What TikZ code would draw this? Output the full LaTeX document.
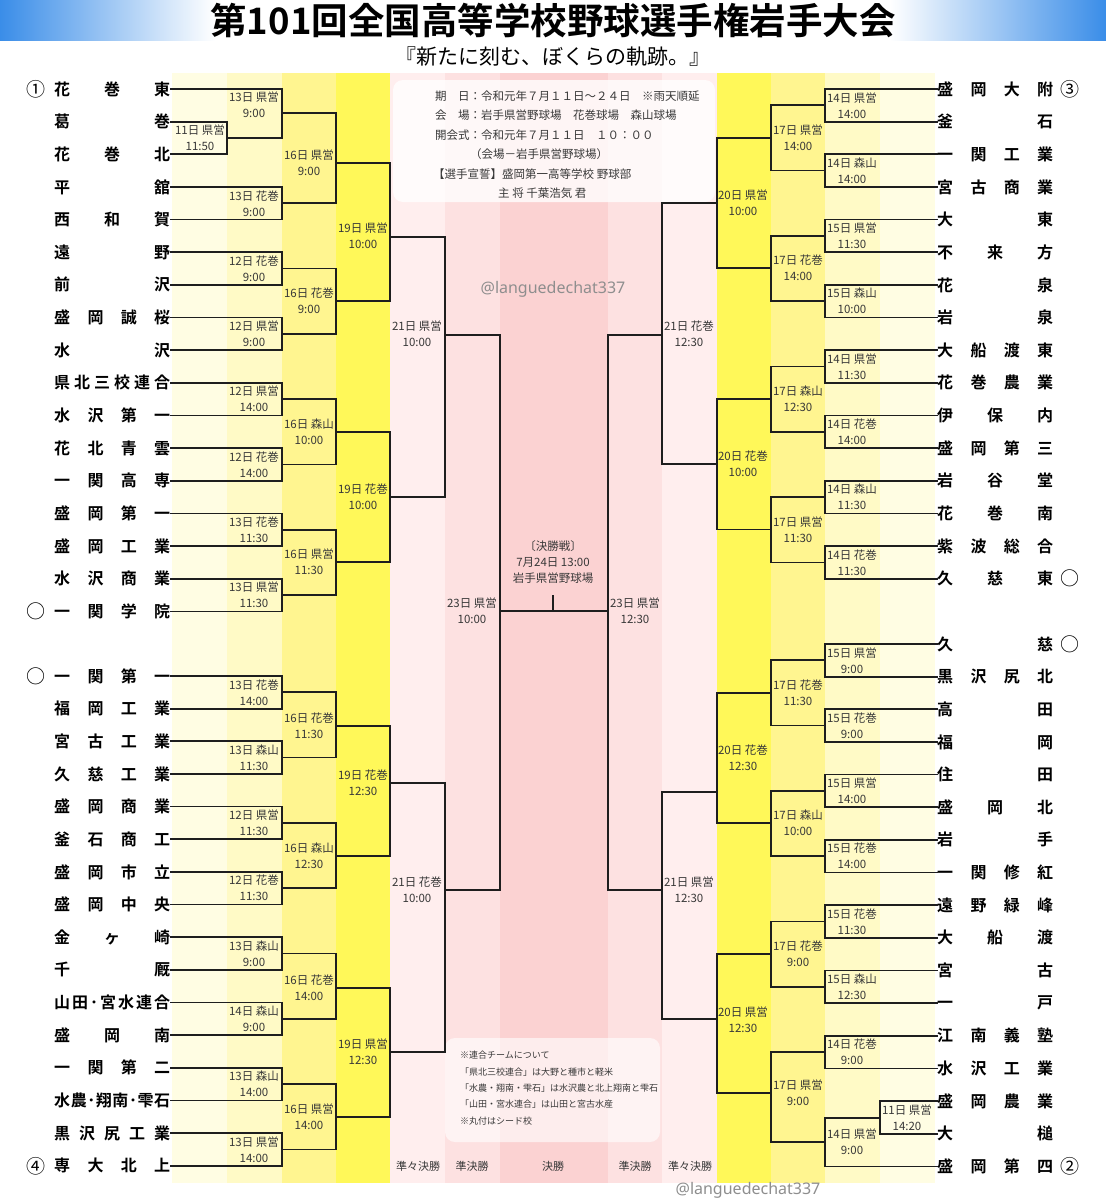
\documentclass[tikz,border=0pt]{standalone}
\usepackage{fontspec}
\setmainfont{Noto Sans CJK JP}[BoldFont=* Bold]
\newfontfamily\latinf{Noto Sans}
\definecolor{tblue}{HTML}{3A8DE8}
\definecolor{cA}{HTML}{FFFDE3}
\definecolor{cB}{HTML}{FFFAC6}
\definecolor{cC}{HTML}{FFF590}
\definecolor{cD}{HTML}{FFF859}
\definecolor{pA}{HTML}{FFEEEE}
\definecolor{pB}{HTML}{FDE1E1}
\definecolor{pC}{HTML}{FBD2D2}
\definecolor{lineC}{HTML}{1E1E1E}
\definecolor{labC}{HTML}{383838}
\definecolor{wmC}{HTML}{8E8E8E}
\newcounter{lbcnt}
\newcommand\Brk[5]{\draw[br] (#1,#2) -- (#1,#3) (#1,#4) -- (#5,#4);}
\newcommand\Lbl[4]{\stepcounter{lbcnt}\node[lbl] (lab\arabic{lbcnt}) at (#1,#2) {#3\\#4};}
\begin{document}
\begin{tikzpicture}[x=1pt,y=-1pt,
  br/.style={line width=1.7pt, draw=lineC, line cap=rect},
  teamL/.style={anchor=west, inner sep=0pt, font=\fontsize{16}{16}\selectfont\bfseries},
  lbl/.style={align=center, inner sep=0pt, text=labC, font=\fontsize{11.5}{16}\selectfont},
  info/.style={anchor=west, inner sep=0pt, text=labC, font=\fontsize{11.5}{14}\selectfont},
  note/.style={anchor=west, inner sep=0pt, text=labC, font=\fontsize{9}{11}\selectfont},
  seed/.style={inner sep=0pt, font=\fontsize{19}{19}\selectfont},
  rnd/.style={inner sep=0pt, text=labC, font=\fontsize{11}{11}\selectfont},
  wmark/.style={inner sep=0pt, text=wmC, font=\latinf\fontsize{16}{16}\selectfont}]
\useasboundingbox (0,0) rectangle (1106,1200);
\fill[white] (0,0) rectangle (1106,1200);
% title band
\shade[left color=tblue, middle color=tblue!45, right color=white] (0,0) rectangle (215,40);
\shade[left color=white, middle color=tblue!45, right color=tblue] (890,0) rectangle (1106,40);
\node[inner sep=0pt, font=\fontsize{36.5}{36.5}\selectfont\bfseries] (title) at (553,21) {第101回全国高等学校野球選手権岩手大会};
\node[inner sep=0pt, font=\fontsize{21}{21}\selectfont] (subtitle) at (553,57) {『新たに刻む、ぼくらの軌跡。』};
% column backgrounds
\fill[cA] (172,73) rectangle (227,1183);
\fill[cB] (227,73) rectangle (282,1183);
\fill[cC] (282,73) rectangle (336,1183);
\fill[cD] (336,73) rectangle (390,1183);
\fill[pA] (390,73) rectangle (445,1183);
\fill[pB] (445,73) rectangle (500,1183);
\fill[pC] (500,73) rectangle (608,1183);
\fill[pB] (608,73) rectangle (662,1183);
\fill[pA] (662,73) rectangle (717,1183);
\fill[cD] (717,73) rectangle (771,1183);
\fill[cC] (771,73) rectangle (825,1183);
\fill[cB] (825,73) rectangle (880,1183);
\fill[cA] (880,73) rectangle (935,1183);
% boxes
\fill[white, opacity=0.78, rounded corners=10pt] (393,80) rectangle (715,202);
\fill[white, opacity=0.6, rounded corners=10pt] (445,1038) rectangle (660,1142);
% column coordinates
\coordinate (cA) at (227,0);
\coordinate (cB) at (282,0);
\coordinate (cK) at (825,0);
\coordinate (cL) at (880,0);
% teams left
\foreach \n [count=\i from 0] in {花\hfill 巻\hfill 東, 葛\hfill 巻, 花\hfill 巻\hfill 北, 平\hfill 舘, 西\hfill 和\hfill 賀, 遠\hfill 野, 前\hfill 沢, 盛\hfill 岡\hfill 誠\hfill 桜, 水\hfill 沢, 県\hfill 北\hfill 三\hfill 校\hfill 連\hfill 合, 水\hfill 沢\hfill 第\hfill 一, 花\hfill 北\hfill 青\hfill 雲, 一\hfill 関\hfill 高\hfill 専, 盛\hfill 岡\hfill 第\hfill 一, 盛\hfill 岡\hfill 工\hfill 業, 水\hfill 沢\hfill 商\hfill 業, 一\hfill 関\hfill 学\hfill 院}
  \node[teamL] (LA\i) at (54,{89+32.65*\i}) {\makebox[116pt][s]{\n}};
\foreach \n [count=\i from 0] in {一\hfill 関\hfill 第\hfill 一, 福\hfill 岡\hfill 工\hfill 業, 宮\hfill 古\hfill 工\hfill 業, 久\hfill 慈\hfill 工\hfill 業, 盛\hfill 岡\hfill 商\hfill 業, 釜\hfill 石\hfill 商\hfill 工, 盛\hfill 岡\hfill 市\hfill 立, 盛\hfill 岡\hfill 中\hfill 央, 金\hfill ヶ\hfill 崎, 千\hfill 厩, 山\hfill 田\hfill ･\hfill 宮\hfill 水\hfill 連\hfill 合, 盛\hfill 岡\hfill 南, 一\hfill 関\hfill 第\hfill 二, 水\hfill 農\hfill ･\hfill 翔\hfill 南\hfill ･\hfill 雫\hfill 石, 黒\hfill 沢\hfill 尻\hfill 工\hfill 業, 専\hfill 大\hfill 北\hfill 上}
  \node[teamL] (LB\i) at (54,{676+32.65*\i}) {\makebox[116pt][s]{\n}};
% teams right
\foreach \n [count=\i from 0] in {盛\hfill 岡\hfill 大\hfill 附, 釜\hfill 石, 一\hfill 関\hfill 工\hfill 業, 宮\hfill 古\hfill 商\hfill 業, 大\hfill 東, 不\hfill 来\hfill 方, 花\hfill 泉, 岩\hfill 泉, 大\hfill 船\hfill 渡\hfill 東, 花\hfill 巻\hfill 農\hfill 業, 伊\hfill 保\hfill 内, 盛\hfill 岡\hfill 第\hfill 三, 岩\hfill 谷\hfill 堂, 花\hfill 巻\hfill 南, 紫\hfill 波\hfill 総\hfill 合, 久\hfill 慈\hfill 東}
  \node[teamL] (RA\i) at (937,{89+32.65*\i}) {\makebox[116pt][s]{\n}};
\foreach \n [count=\i from 0] in {久\hfill 慈, 黒\hfill 沢\hfill 尻\hfill 北, 高\hfill 田, 福\hfill 岡, 住\hfill 田, 盛\hfill 岡\hfill 北, 岩\hfill 手, 一\hfill 関\hfill 修\hfill 紅, 遠\hfill 野\hfill 緑\hfill 峰, 大\hfill 船\hfill 渡, 宮\hfill 古, 一\hfill 戸, 江\hfill 南\hfill 義\hfill 塾, 水\hfill 沢\hfill 工\hfill 業, 盛\hfill 岡\hfill 農\hfill 業, 大\hfill 槌, 盛\hfill 岡\hfill 第\hfill 四}
  \node[teamL] (RB\i) at (937,{644+32.65*\i}) {\makebox[116pt][s]{\n}};
% seeds
\node[seed] (s1) at (36,89) {①};
\node[seed] (s2) at (36,611) {○};
\node[seed] (s3) at (36,676) {○};
\node[seed] (s4) at (36,1166) {④};
\node[seed] (s5) at (1070,89) {③};
\node[seed] (s6) at (1070,578) {○};
\node[seed] (s7) at (1070,644) {○};
\node[seed] (s8) at (1070,1166) {②};
% team lines
\foreach \i in {0,3,4,...,16} \draw[br] (LA\i.east) -- (LA\i.east -| cB);
\foreach \i in {1,2} \draw[br] (LA\i.east) -- (LA\i.east -| cA);
\foreach \i in {0,...,15} \draw[br] (LB\i.east) -- (LB\i.east -| cB);
\foreach \i in {0,...,15} \draw[br] (RA\i.west) -- (RA\i.west -| cK);
\foreach \i in {0,...,13,16} \draw[br] (RB\i.west) -- (RB\i.west -| cK);
\foreach \i in {14,15} \draw[br] (RB\i.west) -- (RB\i.west -| cL);
% ---- left upper
\Brk{227}{121.65}{154.3}{138}{282} \Lbl{200}{138}{11日 県営}{11:50}
\Brk{282}{89}{138}{113}{336} \Lbl{254}{105}{13日 県営}{9:00}
\Brk{282}{186.95}{219.6}{203.3}{336} \Lbl{254}{203.3}{13日 花巻}{9:00}
\Brk{336}{113}{203.3}{163}{390} \Lbl{309}{163}{16日 県営}{9:00}
\Brk{282}{252.25}{284.9}{268.6}{336} \Lbl{254}{268.6}{12日 花巻}{9:00}
\Brk{282}{317.55}{350.2}{333.9}{336} \Lbl{254}{333.9}{12日 県営}{9:00}
\Brk{336}{268.6}{333.9}{301}{390} \Lbl{309}{301}{16日 花巻}{9:00}
\Brk{390}{163}{301}{237}{445} \Lbl{363}{236}{19日 県営}{10:00}
\Brk{282}{382.85}{415.5}{399.2}{336} \Lbl{254}{399.2}{12日 県営}{14:00}
\Brk{282}{448.15}{480.8}{464.5}{336} \Lbl{254}{464.5}{12日 花巻}{14:00}
\Brk{336}{399.2}{464.5}{432}{390} \Lbl{309}{432}{16日 森山}{10:00}
\Brk{282}{513.45}{546.1}{529.8}{336} \Lbl{254}{529.8}{13日 花巻}{11:30}
\Brk{282}{578.75}{611.4}{595}{336} \Lbl{254}{595}{13日 県営}{11:30}
\Brk{336}{529.8}{595}{562}{390} \Lbl{309}{562}{16日 県営}{11:30}
\Brk{390}{432}{562}{497}{445} \Lbl{363}{497}{19日 花巻}{10:00}
\Brk{445}{237}{497}{335}{500} \Lbl{417}{334}{21日 県営}{10:00}
% ---- left lower
\Brk{282}{676}{708.65}{692.3}{336} \Lbl{254}{692.3}{13日 花巻}{14:00}
\Brk{282}{741.3}{773.95}{757.6}{336} \Lbl{254}{757.6}{13日 森山}{11:30}
\Brk{336}{692.3}{757.6}{726}{390} \Lbl{309}{726}{16日 花巻}{11:30}
\Brk{282}{806.6}{839.25}{822.9}{336} \Lbl{254}{822.9}{12日 県営}{11:30}
\Brk{282}{871.9}{904.55}{888.2}{336} \Lbl{254}{888.2}{12日 花巻}{11:30}
\Brk{336}{822.9}{888.2}{856}{390} \Lbl{309}{856}{16日 森山}{12:30}
\Brk{390}{726}{856}{783}{445} \Lbl{363}{783}{19日 花巻}{12:30}
\Brk{282}{937.2}{969.85}{953.5}{336} \Lbl{254}{953.5}{13日 森山}{9:00}
\Brk{282}{1002.5}{1035.15}{1018.8}{336} \Lbl{254}{1018.8}{14日 森山}{9:00}
\Brk{336}{953.5}{1018.8}{988}{390} \Lbl{309}{988}{16日 花巻}{14:00}
\Brk{282}{1067.8}{1100.45}{1084.1}{336} \Lbl{254}{1084.1}{13日 森山}{14:00}
\Brk{282}{1133.1}{1165.75}{1149.4}{336} \Lbl{254}{1149.4}{13日 県営}{14:00}
\Brk{336}{1084.1}{1149.4}{1117}{390} \Lbl{309}{1117}{16日 県営}{14:00}
\Brk{390}{988}{1117}{1052}{445} \Lbl{363}{1052}{19日 県営}{12:30}
\Brk{445}{783}{1052}{890}{500} \Lbl{417}{889.5}{21日 花巻}{10:00}
% ---- semifinals and final
\Brk{500}{335}{890}{611}{608} \Lbl{472}{611}{23日 県営}{10:00}
\Brk{608}{335}{890}{611}{500} \Lbl{635}{611}{23日 県営}{12:30}
\coordinate (fin) at (553,611);
\draw[br] (fin) -- ++(0,-15);
\node[lbl] (finlab) at (553,562) {〔決勝戦〕\\7月24日 13:00\\岩手県営野球場};
% ---- right upper
\Brk{825}{89}{121.65}{105.3}{771} \Lbl{852}{105.3}{14日 県営}{14:00}
\Brk{825}{154.3}{186.95}{170.6}{771} \Lbl{852}{170.6}{14日 森山}{14:00}
\Brk{771}{105.3}{170.6}{138}{717} \Lbl{798}{138}{17日 県営}{14:00}
\Brk{825}{219.6}{252.25}{235.9}{771} \Lbl{852}{235.9}{15日 県営}{11:30}
\Brk{825}{284.9}{317.55}{301.2}{771} \Lbl{852}{301.2}{15日 森山}{10:00}
\Brk{771}{235.9}{301.2}{268}{717} \Lbl{798}{268}{17日 花巻}{14:00}
\Brk{717}{138}{268}{203}{662} \Lbl{743}{203}{20日 県営}{10:00}
\Brk{825}{350.2}{382.85}{366.5}{771} \Lbl{852}{366.5}{14日 県営}{11:30}
\Brk{825}{415.5}{448.15}{431.8}{771} \Lbl{852}{431.8}{14日 花巻}{14:00}
\Brk{771}{366.5}{431.8}{399}{717} \Lbl{798}{399}{17日 森山}{12:30}
\Brk{825}{480.8}{513.45}{497.1}{771} \Lbl{852}{497.1}{14日 森山}{11:30}
\Brk{825}{546.1}{578.75}{562.4}{771} \Lbl{852}{562.4}{14日 花巻}{11:30}
\Brk{771}{497.1}{562.4}{529.5}{717} \Lbl{798}{529.5}{17日 県営}{11:30}
\Brk{717}{399}{529.5}{464}{662} \Lbl{743}{464}{20日 花巻}{10:00}
\Brk{662}{203}{464}{335}{608} \Lbl{689}{334}{21日 花巻}{12:30}
% ---- right lower
\Brk{825}{644}{676.65}{660.3}{771} \Lbl{852}{660.3}{15日 県営}{9:00}
\Brk{825}{709.3}{741.95}{725.6}{771} \Lbl{852}{725.6}{15日 花巻}{9:00}
\Brk{771}{660.3}{725.6}{693}{717} \Lbl{798}{693}{17日 花巻}{11:30}
\Brk{825}{774.6}{807.25}{790.9}{771} \Lbl{852}{790.9}{15日 県営}{14:00}
\Brk{825}{839.9}{872.55}{856.2}{771} \Lbl{852}{856.2}{15日 花巻}{14:00}
\Brk{771}{790.9}{856.2}{823}{717} \Lbl{798}{823}{17日 森山}{10:00}
\Brk{717}{693}{823}{792}{662} \Lbl{743}{758}{20日 花巻}{12:30}
\Brk{825}{905.2}{937.85}{921.5}{771} \Lbl{852}{921.5}{15日 花巻}{11:30}
\Brk{825}{970.5}{1003.15}{986.8}{771} \Lbl{852}{986.8}{15日 森山}{12:30}
\Brk{771}{921.5}{986.8}{954}{717} \Lbl{798}{954}{17日 花巻}{9:00}
\Brk{825}{1035.8}{1068.45}{1052.1}{771} \Lbl{852}{1052.1}{14日 花巻}{9:00}
\Brk{880}{1101.1}{1133.75}{1118}{825} \Lbl{907}{1118}{11日 県営}{14:20}
\Brk{825}{1118}{1166.4}{1142}{771} \Lbl{852}{1142}{14日 県営}{9:00}
\Brk{771}{1052.1}{1142}{1093}{717} \Lbl{798}{1093}{17日 県営}{9:00}
\Brk{717}{954}{1093}{1019}{662} \Lbl{743}{1019.5}{20日 県営}{12:30}
\Brk{662}{792}{1019}{890}{608} \Lbl{689}{889.5}{21日 県営}{12:30}
% info text
\node[info] (i1) at (435,96) {期　日：令和元年７月１１日～２４日　※雨天順延};
\node[info] (i2) at (435,115) {会　場：岩手県営野球場　花巻球場　森山球場};
\node[info] (i3) at (435,135) {開会式：令和元年７月１１日　１０：００};
\node[info] (i4) at (470,154) {（会場－岩手県営野球場）};
\node[info] (i5) at (433,174) {【選手宣誓】盛岡第一高等学校 野球部};
\node[info] (i6) at (498,193) {主 将 千葉浩気 君};
% notes
\node[note] (n1) at (460,1055) {※連合チームについて};
\node[note] (n2) at (460,1072) {「県北三校連合」は大野と種市と軽米};
\node[note] (n3) at (460,1088) {「水農・翔南・雫石」は水沢農と北上翔南と雫石};
\node[note] (n4) at (460,1104) {「山田・宮水連合」は山田と宮古水産};
\node[note] (n5) at (460,1121) {※丸付はシード校};
% round names
\node[rnd] (r1) at (418,1166) {準々決勝};
\node[rnd] (r2) at (472,1166) {準決勝};
\node[rnd] (r3) at (553,1166) {決勝};
\node[rnd] (r4) at (635,1166) {準決勝};
\node[rnd] (r5) at (690,1166) {準々決勝};
% watermarks
\node[wmark] (w1) at (553,289) {@languedechat337};
\node[wmark] (w2) at (748,1190) {@languedechat337};
\end{tikzpicture}
\end{document}
